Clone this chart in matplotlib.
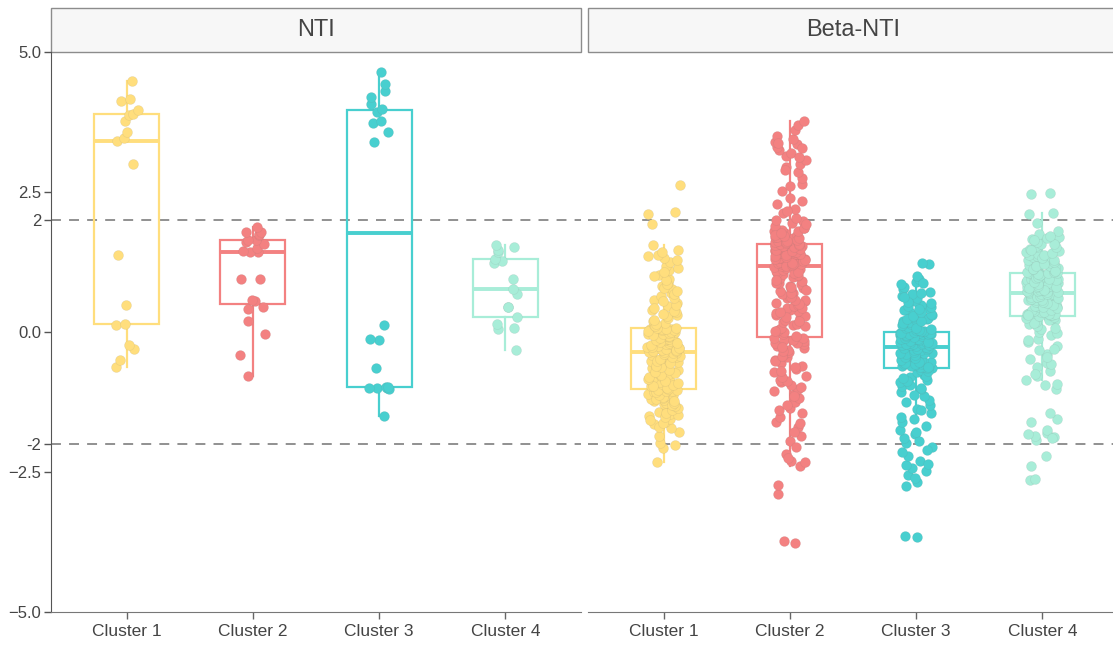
import numpy as np
import matplotlib.pyplot as plt
from matplotlib.patches import Rectangle

plt.rcParams['font.family'] = ['Liberation Sans', 'DejaVu Sans']

clusters = ['Cluster 1', 'Cluster 2', 'Cluster 3', 'Cluster 4']
colors = ['#FFDE7D', '#F38181', '#48CFCF', '#A8EDD8']
panels = ['NTI', 'Beta-NTI']

# NTI per cluster
nti_c1 = [-0.62, -0.50, -0.30, -0.24, 0.13, 0.15, 0.49, 1.375, 3.00, 3.41,
          3.46, 3.57, 3.77, 3.88, 3.90, 3.96, 4.12, 4.16, 4.49]
nti_c2 = [-0.79, -0.41, -0.04, 0.20, 0.41, 0.44, 0.56, 0.57, 0.95, 0.95,
          1.42, 1.42, 1.45, 1.50, 1.58, 1.60, 1.64, 1.65, 1.73, 1.75,
          1.79, 1.79, 1.88]
nti_c3 = [-1.50, -1.00, -1.00, -0.99, -1.01, -1.00, -0.98, -0.64, -0.14, -0.125,
          0.125, 3.40, 3.57, 3.73, 3.77, 3.92, 3.99, 4.08, 4.19, 4.30,
          4.43, 4.64]
nti_c4 = [-0.33, 0.05, 0.08, 0.14, 0.26, 0.44, 0.45, 0.67, 0.77, 0.94,
          1.23, 1.27, 1.30, 1.42, 1.46, 1.51, 1.55]

# Beta-NTI per cluster
beta_c1 = [-2.33, -2.08, -2.02, -1.78, -1.72, -1.65, -1.60, -1.55, -1.50, -1.46,
           -1.42, -1.38, -1.35, -1.32, -1.29, -1.26, -1.23, -1.21, -1.19, -1.17,
           -1.15, -1.13, -1.11, -1.10, -1.09, -1.07, -1.06, -1.05, -1.04, -1.03,
           -1.98, -1.85, -1.70, -1.62, -1.58, -1.52, -1.48, -1.44, -1.40, -1.36,
           -1.33, -1.30, -1.27, -1.24, -1.20, -1.16, -1.12, -1.08, -1.05, -1.03,
           -1.02, -0.99, -0.96, -0.93, -0.90, -0.88, -0.85, -0.83, -0.80, -0.78,
           -0.75, -0.73, -0.70, -0.68, -0.66, -0.64, -0.61, -0.59, -0.57, -0.55,
           -0.53, -0.51, -0.49, -0.47, -0.45, -0.43, -0.41, -0.39, -0.37, -0.36,
           -1.00, -0.97, -0.94, -0.91, -0.87, -0.84, -0.81, -0.77, -0.74, -0.71,
           -0.67, -0.63, -0.60, -0.56, -0.52, -0.48, -0.44, -0.40, -0.38, -0.36,
           -0.34, -0.33, -0.31, -0.30, -0.28, -0.27, -0.25, -0.24, -0.22, -0.21,
           -0.19, -0.18, -0.16, -0.15, -0.13, -0.12, -0.10, -0.09, -0.07, -0.06,
           -0.04, -0.03, -0.02, 0.00, 0.01, 0.02, 0.03, 0.04, 0.05, 0.06,
           -0.34, -0.32, -0.29, -0.26, -0.23, -0.20, -0.17, -0.14, -0.11, -0.08,
           -0.05, -0.03, -0.01, 0.00, 0.02, 0.03, 0.04, 0.05, 0.06, 0.065,
           0.08, 0.12, 0.16, 0.20, 0.25, 0.30, 0.35, 0.40, 0.46, 0.52,
           0.58, 0.64, 0.70, 0.76, 0.82, 0.88, 0.95, 1.02, 1.10, 1.18,
           1.25, 1.32, 1.38, 1.42, 1.46, 1.55, 1.92, 2.10, 2.14, 2.62,
           0.10, 0.14, 0.22, 0.28, 0.33, 0.38, 0.43, 0.49, 0.55, 0.61,
           0.67, 0.73, 0.79, 0.86, 0.92, 1.00, 1.08, 1.15, 1.28, 1.35]
beta_c2 = [-3.76, -3.74, -2.89, -2.73, -2.40, -2.33, -2.30, -2.18, -1.95, -1.85,
           -1.70, -1.60, -1.52, -1.45, -1.35, -1.25, -1.18, -1.10, -1.02, -0.95,
           -0.90, -0.85, -0.78, -0.72, -0.66, -0.60, -0.55, -0.50, -0.45, -0.40,
           -0.36, -0.32, -0.28, -0.25, -0.22, -0.19, -0.16, -0.14, -0.12, -0.10,
           -2.25, -2.05, -1.78, -1.62, -1.40, -1.30, -1.15, -1.05, -0.98, -0.88,
           -0.80, -0.70, -0.62, -0.52, -0.42, -0.34, -0.26, -0.20, -0.15, -0.11,
           -0.08, -0.04, 0.00, 0.04, 0.08, 0.12, 0.15, 0.18, 0.22, 0.25,
           0.28, 0.31, 0.34, 0.37, 0.40, 0.43, 0.46, 0.49, 0.52, 0.55,
           0.58, 0.61, 0.64, 0.67, 0.70, 0.73, 0.76, 0.79, 0.82, 0.85,
           0.88, 0.91, 0.94, 0.97, 1.00, 1.03, 1.06, 1.09, 1.12, 1.16,
           0.02, 0.10, 0.20, 0.27, 0.35, 0.42, 0.50, 0.57, 0.63, 0.69,
           0.75, 0.81, 0.87, 0.93, 0.98, 1.02, 1.05, 1.08, 1.11, 1.14,
           1.18, 1.19, 1.21, 1.22, 1.23, 1.25, 1.26, 1.27, 1.28, 1.30,
           1.31, 1.32, 1.33, 1.35, 1.36, 1.37, 1.38, 1.39, 1.40, 1.41,
           1.42, 1.44, 1.45, 1.46, 1.47, 1.48, 1.49, 1.50, 1.51, 1.52,
           1.53, 1.54, 1.54, 1.55, 1.56, 1.56, 1.57, 1.57, 1.57, 1.57,
           1.18, 1.20, 1.22, 1.24, 1.26, 1.29, 1.31, 1.34, 1.36, 1.38,
           1.40, 1.43, 1.45, 1.47, 1.49, 1.51, 1.53, 1.55, 1.56, 1.57,
           1.58, 1.60, 1.62, 1.64, 1.66, 1.68, 1.70, 1.72, 1.74, 1.76,
           1.78, 1.80, 1.83, 1.86, 1.90, 1.94, 1.98, 2.04, 2.12, 2.20,
           2.28, 2.40, 2.52, 2.65, 2.75, 2.85, 2.95, 3.00, 3.08, 3.14,
           3.20, 3.25, 3.30, 3.35, 3.40, 3.45, 3.50, 3.60, 3.70, 3.76,
           1.59, 1.61, 1.63, 1.65, 1.67, 1.69, 1.71, 1.73, 1.77, 1.81,
           1.85, 1.92, 2.00, 2.16, 2.34, 2.60, 2.90, 3.12, 3.28, 3.38]
beta_c3 = [-3.66, -3.64, -2.75, -2.68, -2.55, -2.48, -2.42, -2.38, -2.30, -2.22,
           -2.15, -2.05, -1.98, -1.90, -1.82, -1.75, -1.68, -1.60, -1.52, -1.45,
           -1.38, -1.30, -1.22, -1.15, -1.08, -1.02, -0.96, -0.90, -0.85, -0.80,
           -0.76, -0.72, -0.69, -0.67, -0.65,
           -2.60, -2.35, -2.10, -1.95, -1.78, -1.55, -1.40, -1.25, -1.12, -1.00,
           -0.94, -0.88, -0.82, -0.78, -0.70,
           -0.64, -0.63, -0.62, -0.61, -0.60, -0.59, -0.58, -0.57, -0.55, -0.54,
           -0.53, -0.52, -0.51, -0.50, -0.49, -0.48, -0.46, -0.45, -0.44, -0.43,
           -0.42, -0.41, -0.40, -0.39, -0.38, -0.37, -0.36, -0.35, -0.34, -0.33,
           -0.32, -0.31, -0.30, -0.28, -0.27,
           -0.63, -0.60, -0.58, -0.56, -0.53, -0.50, -0.47, -0.44, -0.41, -0.39,
           -0.37, -0.35, -0.33, -0.30, -0.28,
           -0.25, -0.24, -0.23, -0.22, -0.21, -0.20, -0.19, -0.18, -0.17, -0.16,
           -0.15, -0.14, -0.13, -0.12, -0.11, -0.10, -0.09, -0.08, -0.075, -0.07,
           -0.06, -0.055, -0.05, -0.045, -0.04, -0.035, -0.03, -0.025, -0.02, -0.015,
           -0.01, -0.005, 0.00, 0.00, 0.005,
           -0.24, -0.22, -0.20, -0.18, -0.16, -0.13, -0.11, -0.09, -0.07, -0.05,
           -0.04, -0.03, -0.02, -0.01, 0.00,
           0.01, 0.03, 0.05, 0.07, 0.09, 0.11, 0.13, 0.15, 0.17, 0.19,
           0.21, 0.23, 0.25, 0.27, 0.30, 0.33, 0.36, 0.39, 0.42, 0.45,
           0.48, 0.52, 0.56, 0.60, 0.64, 0.68, 0.72, 0.76, 0.80, 0.85,
           0.90, 0.95, 1.00, 1.22, 1.24,
           0.02, 0.04, 0.08, 0.12, 0.16, 0.20, 0.24, 0.28, 0.35, 0.41,
           0.47, 0.54, 0.62, 0.70, 0.88]
beta_c4 = [-2.65, -2.62, -2.40, -2.22, -1.92, -1.88, -1.85, -1.80, -1.75, -1.55,
           -1.45, -1.02, -0.95, -0.85, -0.78, -0.70, -0.62, -0.55, -0.48, -0.40,
           -0.32, -0.25, -0.18, -0.12, -0.06, 0.00, 0.05, 0.10, 0.14, 0.18,
           0.21, 0.24, 0.26, 0.27, 0.28,
           -1.90, -1.82, -1.60, -0.92, -0.75, -0.58, -0.44, -0.30, -0.15, -0.02,
           0.08, 0.16, 0.22, 0.25, 0.27,
           0.29, 0.30, 0.31, 0.32, 0.33, 0.34, 0.35, 0.36, 0.38, 0.39,
           0.40, 0.41, 0.42, 0.44, 0.45, 0.46, 0.47, 0.48, 0.50, 0.51,
           0.52, 0.53, 0.54, 0.56, 0.57, 0.58, 0.59, 0.60, 0.62, 0.63,
           0.64, 0.65, 0.66, 0.68, 0.69,
           0.30, 0.33, 0.36, 0.39, 0.42, 0.45, 0.48, 0.51, 0.54, 0.57,
           0.60, 0.62, 0.65, 0.67, 0.68,
           0.71, 0.72, 0.73, 0.74, 0.75, 0.76, 0.78, 0.79, 0.80, 0.81,
           0.82, 0.83, 0.84, 0.85, 0.86, 0.87, 0.88, 0.89, 0.90, 0.91,
           0.92, 0.93, 0.94, 0.95, 0.96, 0.97, 0.98, 0.99, 1.00, 1.01,
           1.02, 1.03, 1.04, 1.05, 1.06,
           0.72, 0.75, 0.78, 0.80, 0.83, 0.86, 0.89, 0.92, 0.95, 0.97,
           0.99, 1.01, 1.03, 1.05, 1.06,
           1.07, 1.08, 1.10, 1.12, 1.14, 1.16, 1.18, 1.20, 1.22, 1.24,
           1.26, 1.28, 1.30, 1.32, 1.34, 1.36, 1.38, 1.40, 1.42, 1.45,
           1.48, 1.51, 1.54, 1.57, 1.60, 1.63, 1.66, 1.70, 1.75, 1.80,
           1.95, 2.10, 2.12, 2.47, 2.49,
           1.09, 1.13, 1.17, 1.21, 1.25, 1.29, 1.33, 1.37, 1.41, 1.46,
           1.52, 1.58, 1.64, 1.68, 1.72]

yticks = [-5, -2.5, -2, 0, 2, 2.5, 5]
yticklabels = ['\u22125.0', '\u22122.5', '-2', '0.0', '2', '2.5', '5.0']

W, H = 1113, 646
fig = plt.figure(figsize=(W / 100, H / 100), dpi=100)
ax1 = fig.add_axes([51 / W, 34 / H, 530 / W, 560 / H])
ax2 = fig.add_axes([588 / W, 34 / H, 530 / W, 560 / H])

rng = np.random.default_rng(3)  # horizontal jitter of the points


def draw_panel(ax, groups, title, jit):
    bp = ax.boxplot(groups, positions=range(4), widths=0.515, whis=1.5,
                    showfliers=False, showcaps=False, patch_artist=True)
    for i, c in enumerate(colors):
        bp['boxes'][i].set(facecolor='none', edgecolor=c, linewidth=1.6, zorder=2)
        bp['medians'][i].set(color=c, linewidth=2.8, zorder=2)
        for w in bp['whiskers'][2 * i:2 * i + 2]:
            w.set(color=c, linewidth=1.6, zorder=2)
        vals = np.asarray(groups[i])
        xs = i + rng.uniform(-jit, jit, len(vals))
        ax.scatter(xs, vals, s=52, color=c, edgecolors=(0.45, 0.45, 0.45, 0.12),
                   linewidths=0.5, zorder=3)
    for yv in (2, -2):
        ax.axhline(yv, color='#888888', lw=1.3, ls=(0, (5.5, 4.5)), zorder=1)
    ax.set_xlim(-0.6, 3.6)
    ax.set_ylim(-5, 5)
    ax.set_xticks(range(4))
    ax.set_xticklabels(clusters)
    ax.tick_params(axis='x', length=5, width=1, color='#666666', labelsize=12.5,
                   labelcolor='#444444', pad=4)
    for s in ('top', 'right'):
        ax.spines[s].set_visible(False)
    ax.spines['bottom'].set_color('#777777')
    ax.spines['left'].set_color('#555555')
    # facet strip
    ax.add_patch(Rectangle((0, 1.0), 1, 44 / 560, transform=ax.transAxes,
                           clip_on=False, facecolor='#F7F7F7', edgecolor='#8C8C8C',
                           lw=1.0))
    ax.text(0.5, 1 + 22 / 560, title, transform=ax.transAxes, ha='center',
            va='center', fontsize=17, color='#444444')


draw_panel(ax1, [nti_c1, nti_c2, nti_c3, nti_c4], panels[0], 0.1)
draw_panel(ax2, [beta_c1, beta_c2, beta_c3, beta_c4], panels[1], 0.13)

ax1.set_yticks(yticks)
ax1.set_yticklabels(yticklabels)
ax1.tick_params(axis='y', length=5, width=1, color='#555555', labelsize=12,
                labelcolor='#444444', pad=2)
ax2.spines['left'].set_visible(False)
ax2.tick_params(axis='y', left=False, labelleft=False)

fig.savefig('out.png', dpi=100)
